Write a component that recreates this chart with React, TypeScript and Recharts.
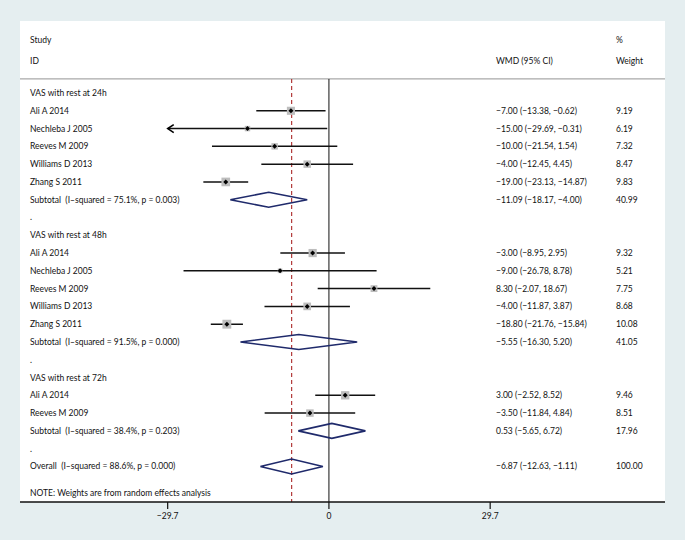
import React from 'react';
import { ComposedChart, Scatter, XAxis, YAxis, ErrorBar, ReferenceLine, CartesianGrid } from 'recharts';

const groupTitles = ['VAS with rest at 24h', 'VAS with rest at 48h', 'VAS with rest at 72h'];

const studies24 = ['Ali A 2014', 'Nechleba J 2005', 'Reeves M 2009', 'Williams D 2013', 'Zhang S 2011'];
const wmd24 = [-7.0, -15.0, -10.0, -4.0, -19.0];
const low24 = [-13.38, -29.69, -21.54, -12.45, -23.13];
const high24 = [-0.62, -0.31, 1.54, 4.45, -14.87];
const weight24 = [9.19, 6.19, 7.32, 8.47, 9.83];

const studies48 = ['Ali A 2014', 'Nechleba J 2005', 'Reeves M 2009', 'Williams D 2013', 'Zhang S 2011'];
const wmd48 = [-3.0, -9.0, 8.3, -4.0, -18.8];
const low48 = [-8.95, -26.78, -2.07, -11.87, -21.76];
const high48 = [2.95, 8.78, 18.67, 3.87, -15.84];
const weight48 = [9.32, 5.21, 7.75, 8.68, 10.08];

const studies72 = ['Ali A 2014', 'Reeves M 2009'];
const wmd72 = [3.0, -3.5];
const low72 = [-2.52, -11.84];
const high72 = [8.52, 4.84];
const weight72 = [9.46, 8.51];

const subtotalLabels = [
  'Subtotal  (I\u2013squared = 75.1%, p = 0.003)',
  'Subtotal  (I\u2013squared = 91.5%, p = 0.000)',
  'Subtotal  (I\u2013squared = 38.4%, p = 0.203)',
];
const subtotalWmd = [-11.09, -5.55, 0.53];
const subtotalLow = [-18.17, -16.3, -5.65];
const subtotalHigh = [-4.0, 5.2, 6.72];
const subtotalWeight = [40.99, 41.05, 17.96];

const overallLabel = 'Overall  (I\u2013squared = 88.6%, p = 0.000)';
const overallWmd = -6.87;
const overallLow = -12.63;
const overallHigh = -1.11;
const overallWeight = 100.0;

const noteText = 'NOTE: Weights are from random effects analysis';
const xTicks = [-29.7, 0, 29.7];

// layout
const W = 685;
const H = 540;
const FONT = 'Lato, "DejaVu Sans", sans-serif';
const FONT_SIZE = 8.5;
const BG = '#e5eef0';
const NAVY = '#1f2a6b';
const DASH_RED = '#b23a3a';
const X_DOMAIN: [number, number] = [-56.9, 61.9];
const Y_DOMAIN: [number, number] = [-4.05, 23];
const HEAD_TOP = -3;
const HEAD_BOTTOM = -1.8;
const HEAD_RULE = -0.79;
const LABEL_X = 30;
const EST_X = 496;
const WEIGHT_X = 616;
const DIAMOND_H = 0.42;

type Row = {
  y: number;
  label: string;
  kind: 'group' | 'study' | 'sub' | 'overall' | 'blank' | 'note';
  est?: number;
  lo?: number;
  hi?: number;
  w?: number;
};

const groups = [
  { s: studies24, e: wmd24, lo: low24, hi: high24, w: weight24 },
  { s: studies48, e: wmd48, lo: low48, hi: high48, w: weight48 },
  { s: studies72, e: wmd72, lo: low72, hi: high72, w: weight72 },
];

const rows: Row[] = [];
let r = 0;
groups.forEach((g, gi) => {
  rows.push({ y: r++, label: groupTitles[gi], kind: 'group' });
  g.s.forEach((name, i) => {
    rows.push({ y: r++, label: name, kind: 'study', est: g.e[i], lo: g.lo[i], hi: g.hi[i], w: g.w[i] });
  });
  rows.push({
    y: r++,
    label: subtotalLabels[gi],
    kind: 'sub',
    est: subtotalWmd[gi],
    lo: subtotalLow[gi],
    hi: subtotalHigh[gi],
    w: subtotalWeight[gi],
  });
  rows.push({ y: r++, label: '.', kind: 'blank' });
});
rows.push({ y: r, label: overallLabel, kind: 'overall', est: overallWmd, lo: overallLow, hi: overallHigh, w: overallWeight });
rows.push({ y: r + 1.5, label: noteText, kind: 'note' });

const fmt = (v: number) => (v < 0 ? '\u2212' + Math.abs(v).toFixed(2) : v.toFixed(2));

// text table, one entry per row, placed by the y scale
const labelPoints = [
  { x: 0, y: HEAD_TOP, label: 'Study', mid: '', right: '%' },
  { x: 0, y: HEAD_BOTTOM, label: 'ID', mid: 'WMD (95% CI)', right: 'Weight' },
  ...rows.map((row) => ({
    x: 0,
    y: row.y,
    label: row.label,
    mid: row.est === undefined ? '' : `${fmt(row.est)} (${fmt(row.lo as number)}, ${fmt(row.hi as number)})`,
    right: row.w === undefined ? '' : row.w.toFixed(2),
  })),
];

const studyPoints = rows
  .filter((row) => row.kind === 'study')
  .map((row) => ({
    x: row.est as number,
    y: row.y,
    w: row.w as number,
    err: [(row.est as number) - (row.lo as number), (row.hi as number) - (row.est as number)],
  }));

const arrowPoints = rows
  .filter((row) => row.kind === 'study' && (row.lo as number) <= xTicks[0] + 0.05)
  .map((row) => ({ x: row.lo as number, y: row.y }));

const diamonds = rows
  .filter((row) => row.kind === 'sub' || row.kind === 'overall')
  .map((row) => [
    { x: row.lo as number, y: row.y },
    { x: row.est as number, y: row.y - DIAMOND_H },
    { x: row.hi as number, y: row.y },
    { x: row.est as number, y: row.y + DIAMOND_H },
    { x: row.lo as number, y: row.y },
  ]);

const txt = (x: number, y: number, s: string, key: string) => (
  <text
    key={key}
    x={x}
    y={y}
    fontSize={FONT_SIZE}
    fontFamily={FONT}
    fill="#111"
    dominantBaseline="central"
    style={{ whiteSpace: 'pre' }}
  >
    {s}
  </text>
);

const RowText = (props: any) => {
  const { cy, payload } = props;
  return (
    <g>
      {txt(LABEL_X, cy, payload.label, 'l')}
      {payload.mid ? txt(EST_X, cy, payload.mid, 'm') : null}
      {payload.right ? txt(WEIGHT_X, cy, payload.right, 'r') : null}
    </g>
  );
};

const StudyMarker = (props: any) => {
  const { cx, cy, payload } = props;
  const s = payload.w * 0.88;
  const d = 2.5;
  return (
    <g>
      <rect x={cx - s / 2} y={cy - s / 2} width={s} height={s} fill="#bdbdbd" />
      <path d={`M${cx - d},${cy}L${cx},${cy - d}L${cx + d},${cy}L${cx},${cy + d}Z`} fill="#000" />
    </g>
  );
};

const ArrowHead = (props: any) => {
  const { cx, cy } = props;
  return <path d={`M${cx + 6},${cy - 4}L${cx},${cy}L${cx + 6},${cy + 4}`} fill="none" stroke="#000" strokeWidth={1.6} />;
};

const xTickFmt = (v: number) => (v < 0 ? '\u2212' + Math.abs(v) : String(v));

export default function App() {
  return (
    <div style={{ position: 'fixed', left: 0, top: 0, width: W, height: H, background: BG }}>
      <ComposedChart width={W} height={H} margin={{ top: 21, right: 20, bottom: 8, left: 20 }}>
        <CartesianGrid fill="#ffffff" horizontal={false} vertical={false} />
        <XAxis
          type="number"
          dataKey="x"
          domain={X_DOMAIN}
          allowDataOverflow
          ticks={xTicks}
          interval={0}
          tickFormatter={xTickFmt}
          height={30}
          tickSize={7}
          tickMargin={4}
          axisLine={{ stroke: '#111', strokeWidth: 1.5 }}
          tickLine={{ stroke: '#111', strokeWidth: 1.2 }}
          tick={{ fontSize: FONT_SIZE, fill: '#111', fontFamily: FONT }}
        />
        <YAxis type="number" dataKey="y" domain={Y_DOMAIN} allowDataOverflow reversed hide />
        <ReferenceLine y={HEAD_RULE} stroke="#a9a9a9" strokeWidth={1.2} />
        <ReferenceLine
          segment={[
            { x: 0, y: HEAD_RULE },
            { x: 0, y: Y_DOMAIN[1] },
          ]}
          stroke="#111"
          strokeWidth={1}
        />
        <ReferenceLine
          segment={[
            { x: overallWmd, y: HEAD_RULE },
            { x: overallWmd, y: Y_DOMAIN[1] },
          ]}
          stroke={DASH_RED}
          strokeWidth={1.2}
          strokeDasharray="4 3"
        />
        <Scatter data={labelPoints} shape={RowText} isAnimationActive={false} />
        {diamonds.map((pts, i) => (
          <Scatter
            key={`dm-${i}`}
            data={pts}
            line={{ stroke: NAVY, strokeWidth: 1.6 }}
            lineType="joint"
            shape={() => <g />}
            isAnimationActive={false}
          />
        ))}
        <Scatter data={studyPoints} shape={StudyMarker} isAnimationActive={false}>
          <ErrorBar dataKey="err" direction="x" width={0} stroke="#111" strokeWidth={1.5} isAnimationActive={false} />
        </Scatter>
        <Scatter data={arrowPoints} shape={ArrowHead} isAnimationActive={false} />
      </ComposedChart>
    </div>
  );
}
